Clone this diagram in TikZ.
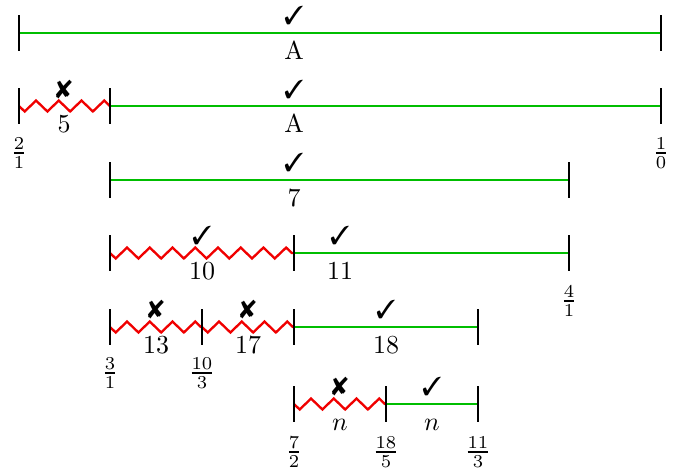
\documentclass[tikz,border=0pt]{standalone}
\usepackage{pifont}
\usetikzlibrary{decorations.pathmorphing}
\definecolor{Good}{HTML}{00BE00}
\definecolor{Bad}{HTML}{F00000}
\newcommand{\cmark}{\ding{51}}
\newcommand{\xmark}{\ding{56}}

\begin{document}
\begin{tikzpicture}[x=0.385pt,y=-0.385pt,
    ok/.style={Good,line width=1pt},
    bad/.style={Bad,line width=.9pt,decorate,decoration={zigzag,segment length=8.75pt,amplitude=-2.1pt}},
    endbar/.style={line width=1pt},
    verdict/.style={inner sep=0pt},
    cnt/.style={anchor=base,inner sep=0pt},
    frc/.style={inner sep=0pt}]
  \useasboundingbox (0,0) rectangle (686,474);
  % end points of every row
  \coordinate (a1) at (19,33);  \coordinate (b1) at (661,33);
  \coordinate (a2) at (19,106); \coordinate (m2) at (110,106); \coordinate (b2) at (661,106);
  \coordinate (a3) at (110,180); \coordinate (b3) at (569,180);
  \coordinate (a4) at (110,253); \coordinate (m4) at (294,253); \coordinate (b4) at (569,253);
  \coordinate (a5) at (110,327); \coordinate (m5) at (202,327); \coordinate (n5) at (294,327); \coordinate (b5) at (478,327);
  \coordinate (a6) at (294,404); \coordinate (m6) at (386,404); \coordinate (b6) at (478,404);

  \draw[ok] (a1)--(b1);
  \draw[bad] (a2)--(m2);
  \draw[ok] (m2)--(b2);
  \draw[ok] (a3)--(b3);
  \draw[bad] (a4)--(m4);
  \draw[ok] (m4)--(b4);
  \draw[bad] (a5)--(m5);
  \draw[bad] (m5)--(n5);
  \draw[ok] (n5)--(b5);
  \draw[bad] (a6)--(m6);
  \draw[ok] (m6)--(b6);

  \foreach \p in {a1,b1,a2,m2,b2,a3,b3,a4,m4,b4,a5,m5,n5,b5,a6,m6,b6}
    \draw[endbar] (\p) ++(0,-18) -- ++(0,36);

  \node[verdict] (v1) at (294,15) {\cmark};   \node[cnt] (c1) at (294,59) {A};
  \node[verdict] (v2) at (64,89) {\xmark};    \node[cnt] (c2) at (64,132) {5};
  \node[verdict] (v3) at (294,89) {\cmark};   \node[cnt] (c3) at (294,132) {A};
  \node[verdict] (v4) at (294,162) {\cmark};  \node[cnt] (c4) at (294,206) {7};
  \node[verdict] (v5) at (202,235) {\cmark};  \node[cnt] (c5) at (202,279) {10};
  \node[verdict] (v6) at (340,235) {\cmark};  \node[cnt] (c6) at (340,279) {11};
  \node[verdict] (v7) at (156,309) {\xmark};  \node[cnt] (c7) at (156,353) {13};
  \node[verdict] (v8) at (248,309) {\xmark};  \node[cnt] (c8) at (248,353) {17};
  \node[verdict] (v9) at (386,309) {\cmark};  \node[cnt] (c9) at (386,353) {18};
  \node[verdict] (v10) at (340,386) {\xmark}; \node[cnt] (c10) at (340,430) {$n$};
  \node[verdict] (v11) at (432,386) {\cmark}; \node[cnt] (c11) at (432,430) {$n$};

  \node[frc] (f21) at (19,153) {$\frac{2}{1}$};
  \node[frc] (f10) at (661,153) {$\frac{1}{0}$};
  \node[frc] (f41) at (569,301) {$\frac{4}{1}$};
  \node[frc] (f31) at (110,373) {$\frac{3}{1}$};
  \node[frc] (f103) at (202,373) {$\frac{10}{3}$};
  \node[frc] (f72) at (294,452) {$\frac{7}{2}$};
  \node[frc] (f185) at (386,452) {$\frac{18}{5}$};
  \node[frc] (f113) at (478,452) {$\frac{11}{3}$};
\end{tikzpicture}
\end{document}
